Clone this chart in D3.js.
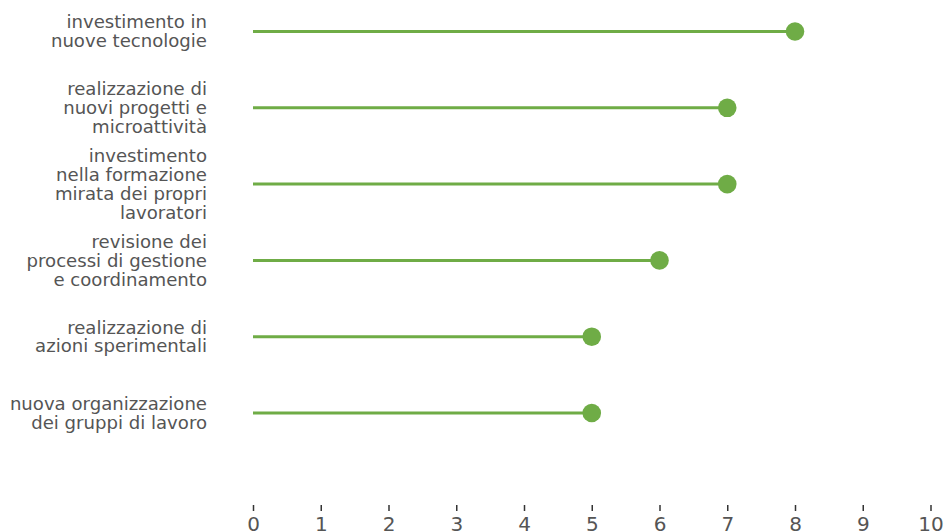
<!DOCTYPE html>
<html>
<head>
<meta charset="utf-8">
<script src="https://cdn.jsdelivr.net/npm/d3@7"></script>
<style>
  html, body { margin: 0; padding: 0; background: #fff; }
  svg { display: block; }
  text { font-family: "DejaVu Sans", sans-serif; }
</style>
</head>
<body>
<svg id="chart" width="946" height="532"></svg>
<script>
const categories = [
  ["investimento in", "nuove tecnologie"],
  ["realizzazione di", "nuovi progetti e", "microattività"],
  ["investimento", "nella formazione", "mirata dei propri", "lavoratori"],
  ["revisione dei", "processi di gestione", "e coordinamento"],
  ["realizzazione di", "azioni sperimentali"],
  ["nuova organizzazione", "dei gruppi di lavoro"]
];
const values = [8, 7, 7, 6, 5, 5];
const xTicks = [0, 1, 2, 3, 4, 5, 6, 7, 8, 9, 10];

const svg = d3.select("#chart");
const color = "#6fac46";
const textColor = "#555555";

const x = d3.scaleLinear().domain([0, 10]).range([253, 930.5]);
const keys = categories.map(c => c.join(" "));
const y = d3.scalePoint().domain(keys).range([31.5, 413]);

// axis
const axis = svg.append("g")
  .attr("transform", "translate(0,505)")
  .call(d3.axisBottom(x).tickValues(xTicks).tickSize(6).tickPadding(6).tickFormat(d3.format("d")));
axis.select(".domain").remove();
axis.selectAll(".tick line").attr("stroke", "#333").attr("stroke-width", 1.5);
axis.selectAll(".tick text").attr("fill", textColor).style("font-size", "20px")
  .style("font-family", "DejaVu Sans, sans-serif");

const data = categories.map((c, i) => ({ key: keys[i], lines: c, value: values[i] }));

// stems
svg.append("g").selectAll("line").data(data).join("line")
  .attr("x1", x(0)).attr("x2", d => x(d.value))
  .attr("y1", d => y(d.key)).attr("y2", d => y(d.key))
  .attr("stroke", color).attr("stroke-width", 3);

// dots
svg.append("g").selectAll("circle").data(data).join("circle")
  .attr("cx", d => x(d.value)).attr("cy", d => y(d.key))
  .attr("r", 9.3).attr("fill", color);

// labels
const lh = 18.8;
const lab = svg.append("g").selectAll("text").data(data).join("text")
  .attr("text-anchor", "end")
  .attr("fill", textColor)
  .style("font-size", "18.1px");
lab.each(function(d) {
  const n = d.lines.length;
  const t = d3.select(this);
  d.lines.forEach((ln, j) => {
    t.append("tspan")
      .attr("x", 207)
      .attr("y", y(d.key) + (j - (n - 1) / 2) * lh)
      .attr("dy", "0.35em")
      .text(ln);
  });
});
</script>
</body>
</html>
